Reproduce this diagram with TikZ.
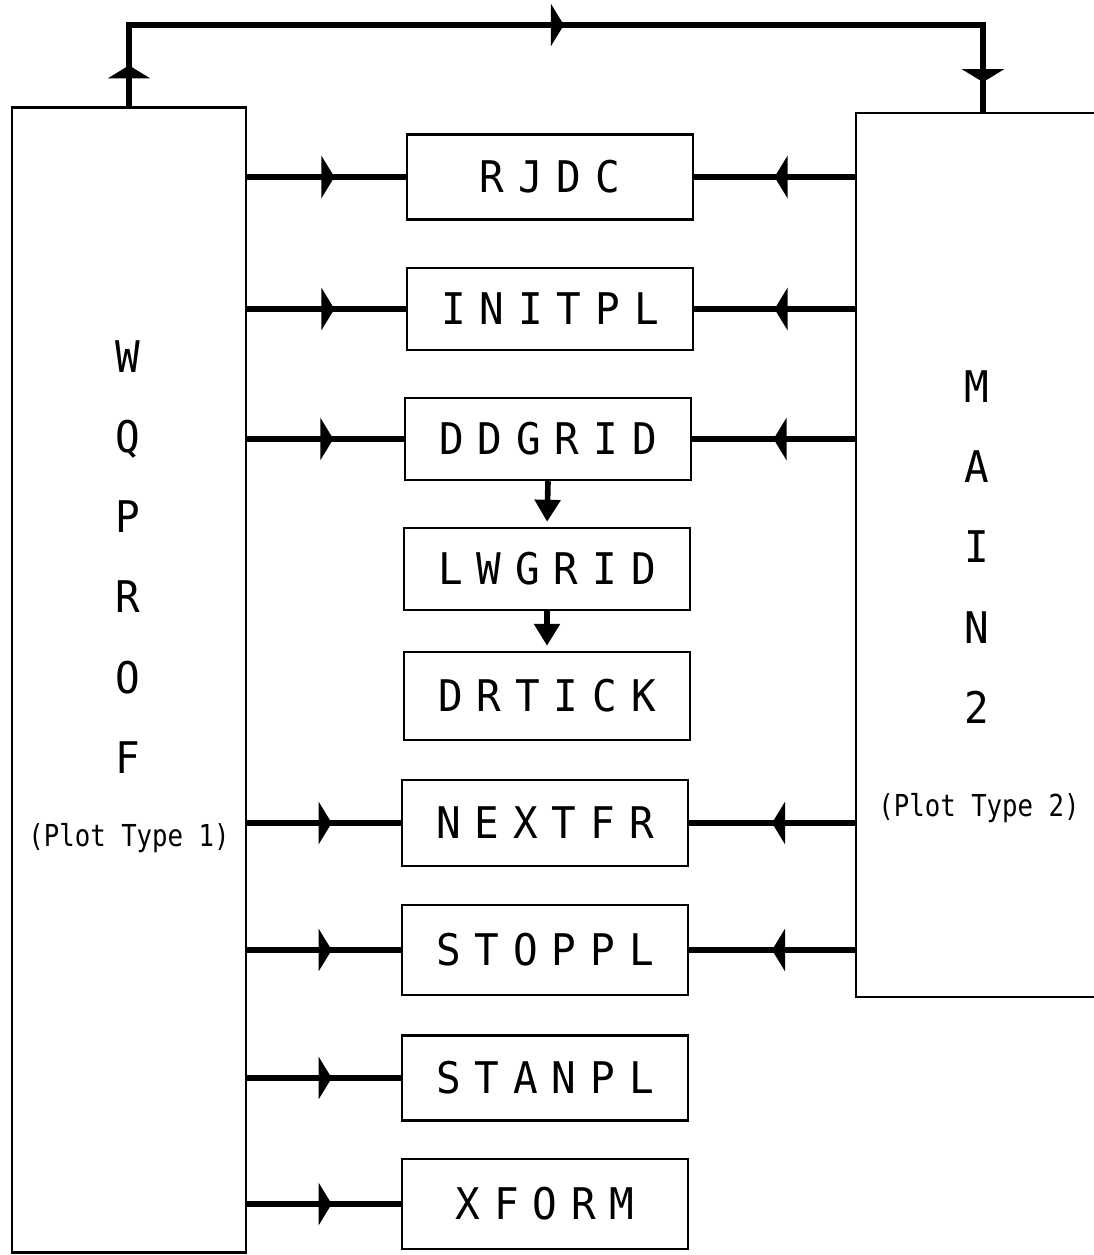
\documentclass[tikz,border=0pt]{standalone}
\usepackage{fontspec}
\usetikzlibrary{arrows.meta,decorations.markings}
\newfontfamily\boxfont[LetterSpace=32,FakeStretch=0.94]{DejaVu Sans Mono}
\newfontfamily\colfont[FakeStretch=0.94]{DejaVu Sans Mono}
\newfontfamily\typefont[FakeStretch=0.85]{DejaVu Sans Mono}

\begin{document}
\begin{tikzpicture}[x=0.01cm, y=-0.01cm,
    frame/.style={draw, line width=0.7pt, inner sep=0pt},
    prog/.style={frame, minimum width=2.86cm, font=\boxfont\fontsize{12.4}{14}\selectfont},
    link/.style={line width=1.6pt},
    flat/.tip={Triangle[length=0.13cm,width=0.42cm]},
    midarrow/.style={postaction={decorate}, decoration={markings,
        mark=at position #1 with {\arrow{flat}}}}]
    \useasboundingbox (0,0) rectangle (1093,1255);
    \node[frame, minimum width=2.34cm, minimum height=11.44cm] (wqprof) at (129,680) {};
    \node[frame, minimum width=2.54cm, minimum height=8.84cm] (main2) at (983,555) {};
    \node[font=\colfont\fontsize{12.4}{22.8}\selectfont, align=center] (wqname) at (128,557) {W\\Q\\P\\R\\O\\F};
    \node[font=\typefont\fontsize{8.6}{10}\selectfont] (wqtype) at (129,838) {(Plot Type 1)};
    \node[font=\colfont\fontsize{12.4}{22.8}\selectfont, align=center] (mainname) at (977,547) {M\\A\\I\\N\\2};
    \node[font=\typefont\fontsize{8.6}{10}\selectfont] (maintype) at (979,808) {(Plot Type 2)};
    \foreach \nm/\lab/\xc/\yc/\h in {rjdc/RJDC/550/177/85, initpl/INITPL/550/309/82,
        ddgrid/DDGRID/548/439/82, lwgrid/LWGRID/547/569/82, drtick/DRTICK/547/696/88,
        nextfr/NEXTFR/545/823/86, stoppl/STOPPL/545/950/90, stanpl/STANPL/545/1078/85,
        xform/XFORM/545/1204/90}{
    \node[prog, minimum height=\h*0.01cm] (\nm) at (\xc,\yc) {\lab};
    }
    \foreach \nm in {rjdc, initpl, ddgrid, nextfr, stoppl, stanpl, xform}{
    \draw[link, midarrow=0.55] (wqprof.east |- \nm.west) -- (\nm.west);
    }
    \foreach \nm in {rjdc, initpl, ddgrid, nextfr, stoppl}{
    \draw[link, midarrow=0.5] (main2.west |- \nm.east) -- (\nm.east);
    }
    \draw[link, -{Triangle[length=0.22cm,width=0.25cm]}, shorten >=0.05cm] (ddgrid.south) -- (lwgrid.north);
    \draw[link, -{Triangle[length=0.22cm,width=0.25cm]}, shorten >=0.05cm] (lwgrid.south) -- (drtick.north);
    \coordinate (top) at (0,25);
    \coordinate (tl) at (wqprof.north |- top);
    \coordinate (tr) at (main2.north |- top);
    \draw[link, line join=miter, postaction={decorate}, decoration={markings,
        mark=at position 0.41cm with {\arrow{flat}},
        mark=at position 5.16cm with {\arrow{flat}},
        mark=at position 9.92cm with {\arrow{flat}}}]
        (wqprof.north) -- (tl) -- (tr) -- (main2.north);
\end{tikzpicture}
\end{document}
